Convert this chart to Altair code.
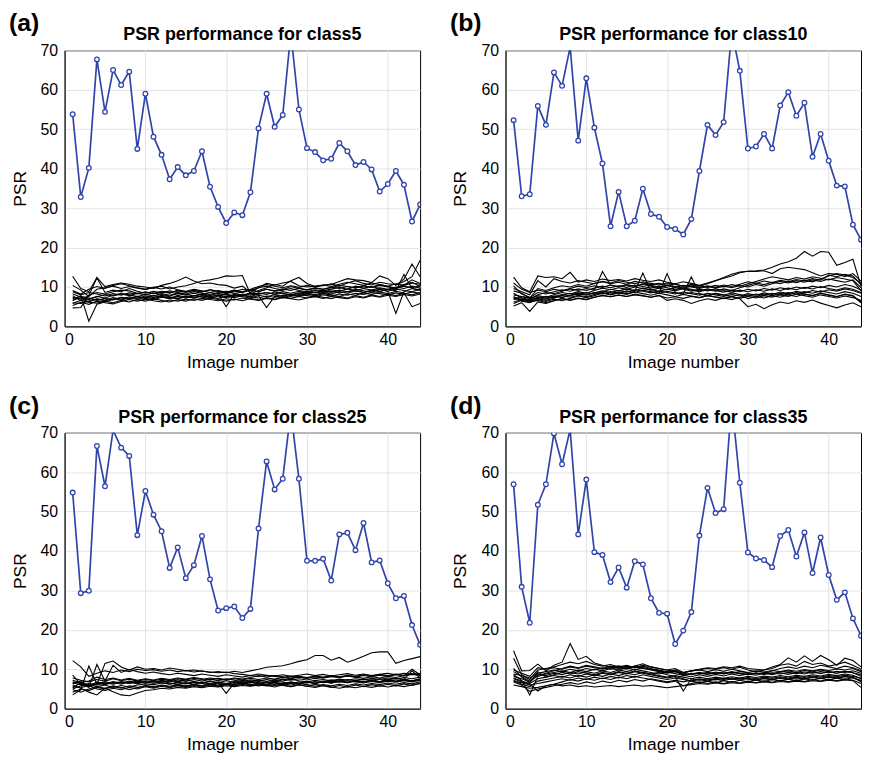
import altair as alt
import pandas as pd

FONT = "Liberation Sans"
BLUE = "#3045AA"

image_numbers = list(range(1, 45))
panel_ids = ["a", "b", "c", "d"]
panel_titles = ["PSR performance for class5", "PSR performance for class10",
                "PSR performance for class25", "PSR performance for class35"]

# target-class PSR (blue)
blue_a = [53.8, 32.8, 40.2, 67.7, 54.4, 65.0, 61.2, 64.6, 45.0, 59.0, 48.1, 43.5, 37.3, 40.4, 38.3,
          39.4, 44.4, 35.4, 30.3, 26.2, 28.9, 28.2, 34.0, 50.2, 59.0, 50.6, 53.6, 74.5, 55.0, 45.2,
          44.2, 42.1, 42.5, 46.5, 44.4, 40.9, 41.7, 39.8, 34.2, 36.1, 39.4, 35.9, 26.6, 30.9]
blue_b = [52.3, 33.0, 33.5, 55.9, 51.1, 64.4, 61.0, 70.8, 47.1, 62.9, 50.4, 41.3, 25.4, 34.1, 25.4,
          26.8, 34.9, 28.5, 27.8, 25.2, 24.7, 23.3, 27.2, 39.4, 51.1, 48.5, 51.8, 75.0, 64.8, 45.1,
          45.6, 48.8, 45.1, 56.0, 59.4, 53.4, 56.7, 43.0, 48.8, 42.0, 35.7, 35.5, 25.8, 22.0]
blue_c = [54.8, 29.3, 29.9, 66.6, 56.4, 70.6, 66.2, 64.1, 44.0, 55.2, 49.2, 45.0, 35.7, 40.9, 33.1,
          36.4, 43.8, 32.8, 24.9, 25.5, 25.9, 23.0, 25.3, 45.7, 62.7, 55.6, 58.3, 75.5, 58.3, 37.5,
          37.5, 38.0, 32.5, 44.2, 44.6, 40.2, 47.1, 37.1, 37.6, 31.8, 28.0, 28.6, 21.2, 16.2]
blue_d = [56.9, 30.9, 21.8, 51.7, 56.9, 69.8, 62.0, 70.8, 44.2, 58.1, 39.7, 39.0, 32.1, 35.8, 30.7,
          37.4, 36.6, 28.0, 24.3, 24.1, 16.4, 19.8, 24.5, 43.9, 56.0, 49.6, 50.6, 78.0, 57.3, 39.6,
          38.1, 37.7, 35.9, 43.8, 45.3, 38.6, 44.7, 34.4, 43.4, 33.9, 27.6, 29.5, 22.9, 18.5]

# other classes (black)
black_a = [
    [12.7, 9.6, 8.8, 12.4, 10.1, 10.6, 11.0, 10.7, 10.2, 10.0, 9.6, 10.4, 10.9, 11.6, 12.5, 11.5, 10.8, 11.0, 10.6, 10.4, 9.7, 10.2, 8.6, 9.8, 10.9, 10.5, 11.0, 11.4, 10.3, 10.0, 10.2, 10.5, 10.6, 11.4, 12.1, 11.8, 11.6, 11.1, 12.8, 12.1, 10.4, 12.0, 15.8, 12.6],
    [10.4, 9.2, 7.6, 9.4, 9.8, 10.2, 9.6, 10.1, 9.7, 9.4, 9.9, 10.2, 9.5, 10.0, 10.3, 10.9, 11.5, 11.8, 12.2, 12.8, 12.7, 12.9, 8.2, 9.1, 9.8, 10.6, 10.2, 11.6, 12.4, 10.9, 10.1, 10.3, 10.8, 10.2, 11.0, 11.6, 10.9, 10.5, 11.2, 10.8, 10.6, 11.4, 12.6, 16.8],
    [4.7, 4.8, 7.9, 8.6, 8.2, 8.8, 9.2, 9.0, 8.4, 8.7, 8.3, 8.8, 8.4, 9.2, 8.8, 9.1, 8.7, 9.3, 8.9, 8.3, 8.8, 9.4, 9.1, 9.8, 10.2, 9.6, 9.3, 10.1, 9.6, 9.2, 9.7, 9.4, 9.8, 10.4, 10.1, 9.8, 10.3, 9.9, 10.6, 10.2, 9.7, 10.4, 11.8, 10.9],
    [6.5, 7.8, 1.3, 5.6, 6.2, 6.8, 7.4, 7.1, 7.6, 7.2, 7.8, 7.5, 7.1, 7.9, 7.4, 7.7, 8.1, 7.6, 7.9, 8.2, 7.7, 8.0, 7.5, 8.3, 8.6, 8.1, 8.4, 8.0, 8.5, 8.2, 8.7, 8.4, 8.9, 8.5, 8.8, 9.1, 8.6, 9.0, 9.4, 8.9, 3.3, 8.8, 9.6, 9.2],
    [7.4, 6.9, 7.8, 12.3, 8.6, 9.2, 8.8, 9.6, 8.9, 8.4, 8.9, 8.5, 9.0, 8.6, 8.2, 8.8, 8.4, 8.1, 8.6, 8.9, 8.3, 8.7, 9.3, 8.8, 9.4, 8.9, 9.2, 9.6, 9.1, 8.8, 9.3, 9.0, 9.5, 9.9, 9.4, 10.2, 9.7, 10.1, 9.6, 9.3, 9.8, 10.6, 11.2, 10.1],
    [6.0, 5.8, 6.4, 6.9, 6.5, 7.0, 6.7, 7.2, 6.9, 7.4, 7.0, 7.6, 7.3, 7.0, 7.5, 7.2, 7.7, 7.4, 7.1, 7.6, 7.3, 7.8, 7.5, 7.2, 7.7, 7.4, 7.9, 7.6, 8.1, 7.8, 7.5, 8.0, 7.7, 8.2, 7.9, 8.4, 8.1, 8.6, 8.3, 8.0, 8.5, 8.2, 8.7, 8.4],
    [8.3, 7.4, 6.8, 7.6, 7.2, 7.9, 8.4, 8.0, 7.6, 8.1, 7.7, 8.3, 7.9, 8.5, 8.1, 7.7, 8.2, 7.8, 8.4, 8.0, 7.6, 8.2, 7.9, 8.5, 8.1, 8.7, 8.3, 7.9, 8.4, 8.8, 8.5, 9.0, 8.6, 9.2, 8.8, 9.4, 9.0, 8.7, 9.3, 8.9, 9.5, 9.1, 8.8, 9.4],
    [5.3, 6.1, 5.6, 6.4, 6.0, 5.7, 6.3, 6.8, 6.4, 6.9, 6.5, 6.2, 6.7, 6.4, 6.9, 6.6, 7.1, 6.8, 6.5, 7.0, 6.7, 7.2, 6.9, 6.6, 7.1, 6.8, 7.3, 7.0, 6.7, 7.2, 7.5, 7.1, 7.6, 7.3, 7.0, 7.5, 7.2, 7.8, 7.4, 7.9, 7.6, 8.1, 7.7, 8.2],
    [9.1, 8.2, 9.4, 10.1, 9.6, 10.4, 10.8, 10.3, 9.8, 9.4, 9.9, 9.5, 10.0, 9.3, 8.9, 9.4, 9.0, 8.6, 9.1, 8.7, 9.2, 8.8, 9.4, 10.1, 10.6, 10.2, 9.8, 10.3, 9.9, 10.4, 10.0, 10.5, 10.1, 10.7, 11.2, 10.8, 10.4, 11.0, 10.6, 10.2, 10.8, 10.4, 11.0, 10.7],
    [7.0, 7.6, 7.2, 6.6, 7.1, 6.7, 7.3, 6.9, 7.5, 7.1, 6.8, 7.4, 7.0, 7.6, 7.2, 7.8, 7.4, 7.1, 7.7, 7.3, 7.9, 7.5, 7.2, 7.8, 4.8, 7.6, 7.3, 7.9, 7.6, 8.2, 7.8, 8.3, 8.0, 7.6, 8.2, 7.9, 8.5, 8.1, 8.7, 8.3, 8.9, 8.5, 5.0, 5.8],
    [7.8, 6.5, 7.0, 7.5, 8.1, 7.7, 8.2, 7.8, 8.4, 8.0, 8.5, 8.1, 7.7, 8.3, 7.9, 8.4, 8.0, 8.6, 8.2, 5.0, 8.3, 7.9, 8.5, 8.1, 8.6, 8.2, 8.8, 8.4, 8.9, 8.5, 9.1, 8.7, 9.3, 8.9, 9.5, 9.1, 9.6, 9.2, 9.8, 9.4, 10.0, 9.6, 10.2, 9.7],
    [6.7, 7.2, 6.2, 7.0, 6.6, 7.3, 6.9, 7.5, 7.1, 7.7, 7.3, 7.9, 7.5, 7.1, 7.6, 7.2, 7.8, 7.4, 8.0, 7.6, 8.1, 7.7, 8.3, 7.9, 7.5, 8.0, 7.6, 8.2, 7.8, 8.4, 8.0, 8.6, 8.2, 8.8, 8.4, 9.0, 8.6, 9.2, 8.8, 9.4, 9.0, 13.2, 9.6, 9.2],
    [8.8, 8.0, 8.6, 8.2, 7.7, 8.3, 7.9, 8.5, 8.2, 8.7, 8.3, 8.9, 8.5, 9.0, 8.6, 9.2, 8.8, 9.3, 8.9, 8.5, 9.0, 8.6, 9.2, 8.8, 9.4, 9.0, 9.5, 9.1, 9.7, 9.3, 9.8, 9.4, 10.0, 9.6, 10.1, 9.7, 10.3, 9.9, 10.4, 10.0, 9.6, 10.2, 9.8, 10.3],
    [5.8, 6.6, 6.1, 5.9, 6.4, 6.0, 6.6, 6.2, 6.8, 6.4, 7.0, 6.6, 6.2, 6.8, 6.4, 7.0, 6.6, 7.2, 6.8, 6.4, 6.9, 6.5, 7.1, 6.7, 7.3, 6.9, 7.5, 7.1, 7.6, 7.2, 7.8, 7.4, 7.0, 7.6, 7.2, 7.8, 7.4, 8.0, 7.6, 8.2, 7.8, 8.4, 8.0, 8.6],
]
black_b = [
    [9.0, 8.4, 7.2, 9.6, 9.1, 9.8, 10.3, 10.0, 10.6, 10.2, 10.9, 11.3, 10.8, 11.2, 10.7, 11.4, 11.0, 10.6, 10.9, 10.4, 10.8, 10.2, 10.5, 10.1, 10.8, 11.6, 12.4, 13.2, 13.8, 14.0, 14.1, 14.3, 15.0, 15.8, 16.4, 17.3, 19.0, 17.8, 19.0, 18.8, 15.5, 16.2, 17.0, 10.2],
    [12.5, 9.8, 8.8, 12.8, 12.4, 12.6, 12.1, 13.7, 11.2, 11.8, 11.4, 12.0, 11.6, 11.9, 11.5, 12.1, 11.7, 11.4, 11.8, 11.2, 10.8, 11.3, 10.9, 10.4, 11.0, 11.6, 12.2, 12.8, 13.6, 14.0, 13.9, 14.1, 13.4, 14.6, 15.0, 14.7, 14.4, 13.6, 12.8, 13.4, 13.2, 12.6, 13.4, 11.5],
    [5.2, 6.0, 3.8, 6.2, 5.8, 6.5, 7.0, 6.6, 7.1, 6.8, 7.4, 7.8, 7.5, 7.9, 7.6, 8.0, 7.7, 7.4, 7.8, 7.2, 7.5, 7.1, 7.6, 7.3, 7.8, 7.5, 7.1, 7.6, 7.0, 5.0, 5.6, 4.5, 5.5, 6.2, 5.8, 6.5, 6.1, 6.7, 5.9, 5.3, 4.7, 5.4, 6.0, 5.0],
    [7.0, 7.5, 7.1, 7.8, 7.4, 8.0, 8.6, 8.2, 8.8, 8.4, 9.1, 9.7, 9.3, 9.8, 9.4, 10.0, 9.6, 9.2, 9.7, 9.3, 9.8, 9.4, 8.9, 9.4, 9.0, 9.5, 9.1, 8.7, 9.2, 8.8, 9.3, 8.9, 9.5, 9.1, 9.7, 9.3, 9.9, 9.5, 10.1, 9.6, 9.2, 9.8, 9.4, 8.6],
    [8.4, 7.2, 6.8, 8.0, 8.6, 8.3, 8.9, 9.5, 9.1, 9.6, 9.2, 13.9, 10.4, 10.0, 10.5, 10.1, 10.6, 10.2, 9.8, 10.3, 9.9, 10.4, 10.0, 9.6, 10.1, 9.7, 10.2, 9.8, 10.4, 10.0, 10.6, 10.2, 10.8, 11.4, 11.0, 11.6, 11.2, 11.8, 11.4, 12.0, 11.6, 11.2, 11.8, 9.8],
    [6.2, 6.8, 6.4, 7.0, 6.6, 7.2, 7.8, 7.4, 7.9, 7.5, 8.1, 8.6, 8.2, 8.7, 8.3, 8.9, 13.5, 8.8, 8.4, 13.4, 8.6, 8.2, 12.6, 8.3, 7.9, 8.4, 8.0, 7.6, 8.1, 7.7, 8.2, 7.8, 8.4, 8.0, 8.6, 8.2, 8.8, 8.4, 9.0, 8.6, 8.2, 8.8, 8.4, 7.6],
    [10.3, 8.2, 7.4, 7.0, 7.6, 7.3, 7.9, 8.4, 8.0, 8.6, 8.2, 8.8, 9.4, 9.0, 9.5, 9.1, 9.7, 9.3, 8.9, 9.4, 9.0, 9.6, 9.2, 8.8, 9.3, 8.9, 9.5, 9.1, 9.8, 10.4, 11.0, 10.6, 11.2, 10.8, 11.5, 11.1, 11.7, 11.3, 12.0, 12.8, 13.4, 13.0, 12.4, 11.0],
    [7.6, 6.4, 6.0, 6.8, 6.3, 6.9, 6.5, 7.1, 7.7, 7.3, 7.8, 8.4, 8.0, 8.5, 8.1, 8.7, 8.3, 7.9, 8.4, 8.0, 7.6, 8.1, 7.7, 7.3, 7.8, 7.4, 7.0, 7.5, 7.1, 7.6, 7.2, 7.8, 7.4, 8.0, 7.6, 8.2, 7.8, 7.4, 8.0, 7.6, 7.2, 7.7, 7.3, 6.6],
    [9.6, 8.8, 8.0, 11.6, 10.0, 12.1, 11.4, 11.0, 11.6, 11.2, 10.8, 11.4, 11.0, 11.6, 11.2, 10.8, 11.3, 10.9, 10.5, 11.0, 10.6, 10.2, 10.7, 10.3, 9.9, 10.4, 10.0, 10.6, 10.2, 10.8, 11.4, 12.0, 12.6, 12.2, 11.8, 12.4, 12.0, 12.6, 12.2, 11.8, 12.4, 12.0, 11.6, 9.0],
    [5.8, 6.6, 6.2, 6.6, 6.0, 6.5, 7.1, 6.7, 7.2, 6.8, 7.4, 7.9, 7.5, 8.0, 7.6, 8.2, 7.8, 7.4, 7.9, 6.6, 7.0, 6.6, 5.8, 6.5, 7.0, 6.6, 7.2, 6.8, 7.4, 8.0, 7.6, 8.2, 7.8, 8.4, 8.0, 8.6, 8.2, 7.8, 8.4, 8.0, 7.6, 8.2, 7.8, 6.0],
    [8.0, 7.6, 7.3, 8.6, 8.2, 8.8, 9.3, 8.9, 9.5, 9.1, 9.7, 10.2, 9.8, 10.3, 9.9, 10.5, 10.1, 9.7, 10.2, 9.8, 9.3, 9.8, 9.4, 9.0, 9.5, 9.1, 8.7, 9.2, 8.8, 9.4, 9.0, 9.6, 9.2, 9.8, 9.4, 10.0, 9.6, 10.2, 9.8, 10.4, 10.0, 10.6, 10.2, 9.2],
    [6.8, 7.0, 6.6, 7.3, 6.9, 7.6, 8.1, 7.7, 8.3, 7.9, 8.5, 9.0, 8.6, 9.1, 8.7, 9.3, 8.9, 8.5, 9.0, 8.6, 8.2, 8.7, 8.3, 7.9, 8.4, 8.0, 7.6, 8.1, 7.7, 8.3, 7.9, 8.5, 8.1, 8.7, 8.3, 8.9, 8.5, 9.1, 8.7, 9.3, 8.9, 9.5, 9.1, 8.4],
    [11.0, 9.4, 8.6, 9.2, 8.8, 9.4, 9.0, 9.6, 10.2, 9.8, 10.3, 9.9, 10.5, 10.1, 10.6, 10.2, 10.8, 10.4, 10.0, 10.5, 10.1, 9.7, 10.2, 9.8, 10.3, 9.9, 10.5, 10.1, 10.7, 11.3, 10.9, 11.5, 11.1, 11.7, 11.3, 11.9, 11.5, 12.1, 11.7, 13.0, 12.6, 13.2, 12.8, 10.5],
    [7.3, 6.8, 6.4, 7.5, 7.1, 7.7, 7.3, 7.9, 8.5, 8.1, 8.6, 8.2, 8.8, 8.4, 9.0, 8.6, 9.2, 8.8, 8.4, 8.9, 8.5, 8.1, 8.6, 8.2, 7.8, 8.3, 7.9, 8.5, 8.1, 7.0, 7.6, 7.2, 7.8, 7.4, 8.0, 7.6, 8.2, 7.8, 8.4, 7.9, 7.5, 8.1, 7.7, 6.2],
]
black_c = [
    [12.2, 10.6, 8.2, 9.0, 9.6, 9.2, 9.8, 9.4, 10.0, 9.7, 9.9, 9.5, 9.8, 9.4, 9.7, 9.3, 9.6, 9.2, 9.4, 9.1, 9.5, 9.2, 9.6, 10.0, 10.5, 10.7, 10.9, 11.4, 12.0, 12.4, 13.5, 13.5, 12.3, 13.0, 11.8, 12.5, 13.3, 14.2, 14.4, 14.4, 11.5, 12.2, 12.7, 13.2],
    [3.5, 4.8, 10.8, 6.2, 11.5, 12.1, 10.6, 9.8, 10.6, 10.0, 10.2, 9.8, 10.3, 10.0, 9.6, 9.8, 9.5, 9.3, 9.1, 9.3, 8.9, 8.7, 8.4, 8.8, 8.5, 8.3, 8.6, 8.2, 8.5, 8.8, 8.4, 8.7, 8.3, 8.6, 8.9, 8.5, 8.8, 8.4, 8.7, 9.0, 8.6, 9.0, 8.7, 8.9],
    [8.5, 6.2, 5.4, 11.2, 7.0, 11.0, 9.2, 10.0, 9.4, 9.0, 9.3, 8.9, 8.6, 9.0, 8.7, 8.4, 8.8, 8.5, 8.2, 8.6, 8.3, 8.0, 8.4, 8.1, 8.5, 8.2, 7.9, 8.3, 8.0, 7.8, 8.1, 7.8, 8.2, 7.9, 8.3, 8.0, 7.7, 8.1, 7.8, 8.2, 7.9, 8.4, 10.0, 8.6],
    [6.0, 5.2, 4.2, 3.5, 5.2, 4.3, 3.5, 3.3, 4.0, 4.6, 4.8, 5.2, 5.0, 5.4, 5.2, 5.6, 5.3, 5.7, 5.5, 5.8, 5.6, 5.9, 5.7, 6.0, 5.8, 6.1, 5.9, 5.6, 6.0, 5.7, 5.4, 5.8, 5.5, 5.2, 5.6, 5.3, 5.7, 5.4, 5.8, 5.5, 5.9, 5.6, 6.0, 6.4],
    [6.6, 6.0, 6.4, 6.0, 6.5, 6.2, 6.7, 6.4, 6.8, 6.5, 6.9, 6.6, 6.3, 6.7, 6.4, 6.8, 6.5, 6.9, 6.6, 3.9, 6.5, 6.8, 6.5, 6.9, 6.6, 7.0, 6.7, 6.4, 6.8, 6.5, 6.9, 6.6, 7.0, 6.7, 7.1, 6.8, 6.5, 6.9, 6.6, 7.0, 6.7, 7.1, 6.8, 7.2],
    [5.0, 5.8, 6.2, 5.6, 6.0, 5.4, 5.9, 5.5, 6.0, 6.3, 6.1, 6.5, 6.2, 6.6, 6.3, 6.7, 6.4, 6.1, 6.5, 6.2, 6.6, 6.3, 6.7, 6.4, 6.8, 6.5, 6.2, 6.6, 6.3, 6.7, 6.4, 6.8, 6.5, 6.9, 6.6, 7.0, 6.7, 7.1, 6.8, 7.2, 6.9, 7.3, 7.0, 7.4],
    [7.2, 6.6, 7.0, 8.0, 7.4, 7.8, 7.3, 7.7, 7.2, 7.6, 7.3, 7.7, 7.4, 7.8, 7.5, 7.9, 7.6, 7.3, 7.7, 7.4, 7.8, 7.5, 7.9, 8.4, 8.0, 8.4, 8.1, 7.8, 8.2, 7.9, 8.3, 8.0, 8.4, 8.1, 8.5, 8.2, 8.6, 8.3, 8.7, 8.4, 8.8, 8.5, 8.9, 8.6],
    [4.2, 5.0, 4.6, 5.4, 5.0, 5.6, 5.2, 5.8, 5.4, 5.9, 5.6, 6.0, 5.7, 6.1, 5.8, 6.2, 5.9, 6.3, 6.0, 6.4, 6.1, 6.5, 6.2, 5.8, 6.2, 5.9, 6.3, 6.0, 6.4, 6.1, 5.7, 6.1, 5.8, 6.2, 5.9, 6.3, 6.0, 6.4, 6.1, 6.5, 6.2, 6.6, 6.3, 6.8],
    [6.3, 7.0, 5.5, 6.8, 6.3, 6.9, 6.5, 7.0, 6.6, 7.1, 6.7, 7.2, 6.8, 7.3, 6.9, 7.4, 7.0, 7.5, 7.1, 7.6, 7.2, 6.9, 7.3, 7.0, 7.4, 7.1, 7.5, 7.2, 7.6, 7.3, 7.7, 7.4, 7.1, 7.5, 7.2, 7.6, 7.3, 7.7, 7.4, 7.8, 7.5, 7.9, 7.6, 8.0],
    [5.6, 5.3, 5.9, 5.0, 4.6, 5.2, 4.8, 5.4, 5.0, 5.6, 5.2, 5.7, 5.3, 5.8, 5.4, 5.9, 5.5, 6.0, 5.6, 6.1, 5.7, 6.2, 5.8, 6.3, 5.9, 5.5, 6.0, 5.6, 6.1, 5.7, 6.2, 5.8, 5.4, 5.9, 5.5, 6.0, 5.6, 6.1, 5.7, 6.2, 5.8, 6.3, 5.9, 6.4],
    [7.8, 7.2, 6.8, 7.4, 7.0, 7.6, 7.1, 7.5, 7.0, 7.4, 7.1, 7.5, 7.2, 7.6, 7.3, 7.7, 7.4, 7.8, 7.5, 7.2, 7.6, 7.3, 7.7, 7.4, 7.8, 7.5, 7.9, 7.6, 8.0, 7.7, 8.1, 7.8, 8.2, 7.9, 8.3, 8.0, 8.4, 8.1, 8.5, 8.2, 8.6, 8.3, 8.7, 8.4],
    [6.8, 6.4, 5.8, 6.3, 6.8, 6.4, 6.9, 6.5, 7.0, 6.6, 7.1, 6.7, 7.2, 6.8, 7.3, 6.9, 6.5, 7.0, 6.6, 7.1, 6.7, 7.2, 6.8, 7.3, 6.9, 7.4, 7.0, 7.5, 7.1, 6.8, 7.2, 6.9, 7.3, 7.0, 7.4, 7.1, 7.5, 7.2, 7.6, 7.3, 7.7, 7.4, 9.6, 7.8],
    [5.3, 6.6, 6.0, 6.6, 6.1, 6.7, 6.2, 6.8, 6.3, 6.9, 6.4, 7.0, 6.5, 6.1, 6.6, 6.2, 6.7, 6.3, 6.8, 6.4, 6.9, 6.5, 7.0, 6.6, 6.2, 6.7, 6.3, 6.8, 6.4, 6.9, 6.5, 7.0, 6.6, 7.1, 6.7, 7.2, 6.8, 7.3, 6.9, 7.4, 7.0, 7.5, 7.1, 7.6],
    [4.8, 4.2, 5.0, 5.6, 5.2, 5.8, 5.4, 4.8, 5.3, 5.8, 5.4, 5.9, 5.5, 6.0, 5.6, 6.1, 5.7, 6.2, 5.8, 6.3, 5.9, 6.4, 6.0, 6.5, 6.1, 6.6, 6.2, 6.7, 6.3, 6.8, 6.4, 6.9, 6.5, 7.0, 6.6, 7.1, 6.7, 7.2, 6.8, 7.3, 6.9, 7.4, 7.0, 7.5],
]
black_d = [
    [14.7, 9.6, 9.7, 11.3, 9.6, 11.0, 11.8, 16.5, 12.5, 13.3, 11.6, 11.0, 10.5, 10.9, 10.4, 10.8, 11.4, 10.6, 10.2, 9.8, 9.4, 9.0, 9.6, 10.0, 10.4, 10.2, 10.6, 10.4, 10.8, 10.2, 10.0, 9.8, 10.6, 11.2, 12.9, 11.8, 13.4, 12.0, 13.5, 12.4, 11.0, 12.8, 12.2, 10.6],
    [12.8, 8.6, 7.4, 9.8, 10.2, 10.6, 11.2, 11.8, 11.4, 12.0, 11.2, 10.8, 11.2, 10.6, 11.0, 10.4, 10.8, 10.2, 9.8, 9.4, 9.8, 9.2, 9.6, 9.9, 10.2, 10.0, 10.4, 10.0, 10.5, 9.8, 9.4, 9.8, 10.2, 11.0, 11.4, 10.8, 12.0, 11.2, 11.6, 10.8, 11.2, 11.8, 11.0, 10.0],
    [8.6, 7.2, 3.5, 8.2, 8.8, 9.2, 9.6, 9.2, 9.8, 9.4, 10.0, 9.6, 10.2, 9.8, 10.3, 9.9, 10.4, 10.0, 9.6, 9.2, 9.6, 8.6, 9.0, 8.8, 9.2, 8.9, 9.3, 9.0, 9.4, 9.1, 8.8, 9.2, 8.9, 9.3, 9.6, 9.2, 9.7, 9.3, 9.8, 9.4, 9.0, 9.5, 9.1, 8.2],
    [7.6, 6.8, 6.2, 4.5, 5.8, 6.2, 5.8, 6.0, 5.6, 5.8, 5.5, 5.7, 5.9, 5.6, 5.8, 6.0, 5.7, 5.9, 5.6, 5.3, 5.6, 5.8, 6.1, 6.4, 6.2, 6.5, 6.3, 6.6, 6.4, 6.7, 6.5, 6.8, 6.6, 6.9, 6.7, 7.0, 6.8, 7.1, 6.9, 7.2, 7.0, 7.3, 7.1, 5.4],
    [9.4, 8.2, 7.0, 8.8, 8.4, 9.0, 8.6, 9.2, 8.8, 9.4, 9.0, 9.6, 9.2, 9.8, 9.4, 10.0, 9.6, 9.2, 8.8, 9.3, 8.9, 8.5, 8.1, 8.6, 8.2, 8.7, 8.3, 8.8, 8.4, 8.9, 8.5, 9.0, 8.6, 9.1, 8.7, 9.2, 8.8, 9.3, 8.9, 9.4, 9.0, 9.5, 9.1, 8.6],
    [6.0, 5.6, 5.2, 5.4, 5.8, 6.2, 6.8, 7.4, 7.0, 7.6, 7.2, 7.8, 7.4, 8.0, 7.6, 8.2, 7.8, 7.4, 7.0, 6.6, 7.0, 5.8, 6.4, 6.8, 6.4, 6.8, 6.4, 6.9, 6.5, 7.0, 6.6, 7.1, 6.7, 7.2, 6.8, 7.3, 6.9, 7.4, 7.0, 7.5, 7.1, 7.6, 7.2, 6.4],
    [10.2, 8.0, 6.6, 9.4, 8.0, 8.6, 9.2, 8.8, 9.4, 9.0, 8.6, 9.2, 8.8, 9.4, 9.0, 9.6, 9.2, 8.8, 9.2, 8.6, 8.2, 4.5, 7.6, 8.0, 7.6, 8.0, 7.7, 8.1, 7.8, 8.2, 7.9, 8.3, 8.0, 8.4, 8.1, 8.5, 8.2, 8.6, 8.3, 8.7, 8.4, 8.8, 8.5, 7.6],
    [7.2, 6.2, 5.6, 7.0, 7.4, 7.8, 8.2, 7.8, 8.4, 8.0, 8.6, 8.2, 8.8, 8.4, 9.0, 8.6, 9.2, 8.8, 8.4, 8.0, 8.4, 8.0, 7.6, 7.2, 7.6, 7.3, 7.7, 7.4, 7.8, 7.5, 7.2, 7.6, 7.3, 7.7, 7.4, 7.8, 7.5, 7.9, 7.6, 8.0, 7.7, 8.1, 7.8, 7.2],
    [8.2, 7.6, 6.8, 8.4, 9.0, 9.6, 10.2, 10.8, 10.4, 11.0, 10.6, 10.2, 10.8, 10.4, 10.0, 10.6, 10.2, 9.8, 9.4, 9.0, 9.4, 9.0, 8.6, 9.0, 8.7, 9.1, 8.8, 9.2, 8.9, 8.6, 9.0, 8.7, 9.1, 8.8, 9.2, 8.9, 9.3, 9.0, 9.4, 9.1, 9.5, 9.2, 9.6, 9.0],
    [6.8, 6.0, 4.4, 5.0, 5.4, 5.8, 6.2, 6.6, 6.2, 6.8, 6.4, 7.0, 6.6, 7.2, 6.8, 7.4, 7.0, 7.6, 7.2, 6.8, 7.2, 6.8, 7.2, 7.6, 7.3, 7.7, 7.4, 7.8, 7.5, 7.9, 7.6, 8.0, 7.7, 8.1, 7.8, 8.2, 7.9, 8.3, 8.0, 8.4, 8.1, 8.5, 8.2, 7.8],
    [9.8, 9.0, 8.2, 10.4, 10.0, 10.4, 10.0, 10.6, 10.2, 10.8, 10.4, 10.0, 10.6, 10.2, 10.8, 10.4, 11.0, 10.6, 10.2, 9.8, 10.2, 9.2, 9.6, 9.8, 9.4, 9.9, 9.5, 10.0, 9.6, 9.2, 9.6, 9.3, 9.7, 9.4, 9.8, 9.5, 9.9, 9.6, 10.0, 9.7, 10.1, 9.8, 10.2, 9.4],
    [7.8, 7.0, 6.4, 7.6, 8.0, 8.4, 8.0, 8.6, 8.2, 8.8, 8.4, 9.0, 8.6, 9.2, 8.8, 9.4, 9.0, 8.6, 8.2, 7.8, 8.2, 7.6, 7.0, 7.4, 7.0, 7.5, 7.1, 7.6, 7.2, 7.7, 7.3, 7.8, 7.4, 7.9, 7.5, 8.0, 7.6, 8.1, 7.7, 8.2, 7.8, 8.3, 7.9, 7.0],
    [8.8, 8.4, 7.8, 9.0, 9.4, 9.8, 9.4, 10.0, 9.6, 10.2, 9.8, 10.4, 10.0, 10.6, 10.2, 10.8, 10.4, 10.0, 9.6, 9.2, 9.6, 8.4, 8.8, 9.2, 8.8, 9.3, 8.9, 9.4, 9.0, 8.7, 9.1, 8.8, 9.6, 10.2, 10.6, 10.2, 10.8, 10.4, 11.0, 10.6, 10.2, 10.8, 10.4, 9.6],
    [7.0, 6.6, 6.0, 6.4, 6.8, 7.2, 7.6, 7.2, 7.8, 7.4, 8.0, 7.6, 8.2, 7.8, 8.4, 8.0, 8.6, 8.2, 7.8, 7.4, 7.8, 7.4, 7.0, 6.6, 7.0, 6.6, 7.1, 6.7, 7.2, 6.8, 7.3, 6.9, 7.4, 7.0, 7.5, 7.1, 7.6, 7.2, 7.7, 7.3, 7.8, 7.4, 7.9, 6.8],
]

blues = {"a": blue_a, "b": blue_b, "c": blue_c, "d": blue_d}
blacks = {"a": black_a, "b": black_b, "c": black_c, "d": black_d}

W, H = 358, 278

AX_COMMON = dict(labelFont=FONT, titleFont=FONT, labelFontSize=16, titleFontSize=17.5,
                 labelColor="black", titleColor="black", titleFontWeight="normal",
                 domainColor="black", domainWidth=1, ticks=False, labelOverlap=False,
                 gridColor="#e3e3e3", gridWidth=1)

xenc = alt.X("x:Q", scale=alt.Scale(domain=[0, 44], nice=False, zero=False),
             axis=alt.Axis(values=[0, 10, 20, 30, 40], title="Image number",
                           labelPadding=5, titlePadding=6, **AX_COMMON))
yenc = alt.Y("y:Q", scale=alt.Scale(domain=[0, 70], nice=False),
             axis=alt.Axis(values=list(range(0, 71, 10)), title="PSR",
                           labelPadding=7, titlePadding=11, **AX_COMMON))


def make_panel(pid, title):
    brows = []
    for k, line in enumerate(blacks[pid]):
        for xi, v in zip(image_numbers, line):
            brows.append({"series": f"class{k}", "x": xi, "y": v})
    bdf = pd.DataFrame(brows)
    tdf = pd.DataFrame({"x": image_numbers[:len(blues[pid])], "y": blues[pid]})

    others = alt.Chart(bdf).mark_line(color="black", strokeWidth=1.1, clip=True).encode(
        x=xenc, y=yenc, detail="series:N")
    tline = alt.Chart(tdf).mark_line(color=BLUE, strokeWidth=1.7, clip=True).encode(
        x=xenc, y=yenc)
    tpts = alt.Chart(tdf).mark_point(shape="circle", filled=True, fill="white", fillOpacity=1,
                                     stroke=BLUE, strokeWidth=1.3, size=22, opacity=1,
                                     clip=True).encode(x=xenc, y=yenc)
    label_df = pd.DataFrame({"t": [f"({pid})"], "title": [title]})
    label = alt.Chart(label_df).mark_text(
        align="left", baseline="middle", fontSize=25, fontWeight="bold", font=FONT,
        color="black").encode(x=alt.value(-56), y=alt.value(-27), text="t:N")
    head = alt.Chart(label_df).mark_text(
        align="center", baseline="middle", fontSize=18, fontWeight="bold", font=FONT,
        color="black").encode(x=alt.value(W / 2), y=alt.value(-15), text="title:N")

    return alt.layer(others, tline, tpts, label, head).properties(width=W, height=H)


panels = [make_panel(p, t) for p, t in zip(panel_ids, panel_titles)]

chart = alt.vconcat(
    alt.hconcat(panels[0], panels[1], spacing=28),
    alt.hconcat(panels[2], panels[3], spacing=28),
    spacing=22,
).properties(padding=0, background="white").configure_view(stroke="black", strokeWidth=1)

chart.save("out.html", embed_options={"renderer": "svg", "actions": False})
